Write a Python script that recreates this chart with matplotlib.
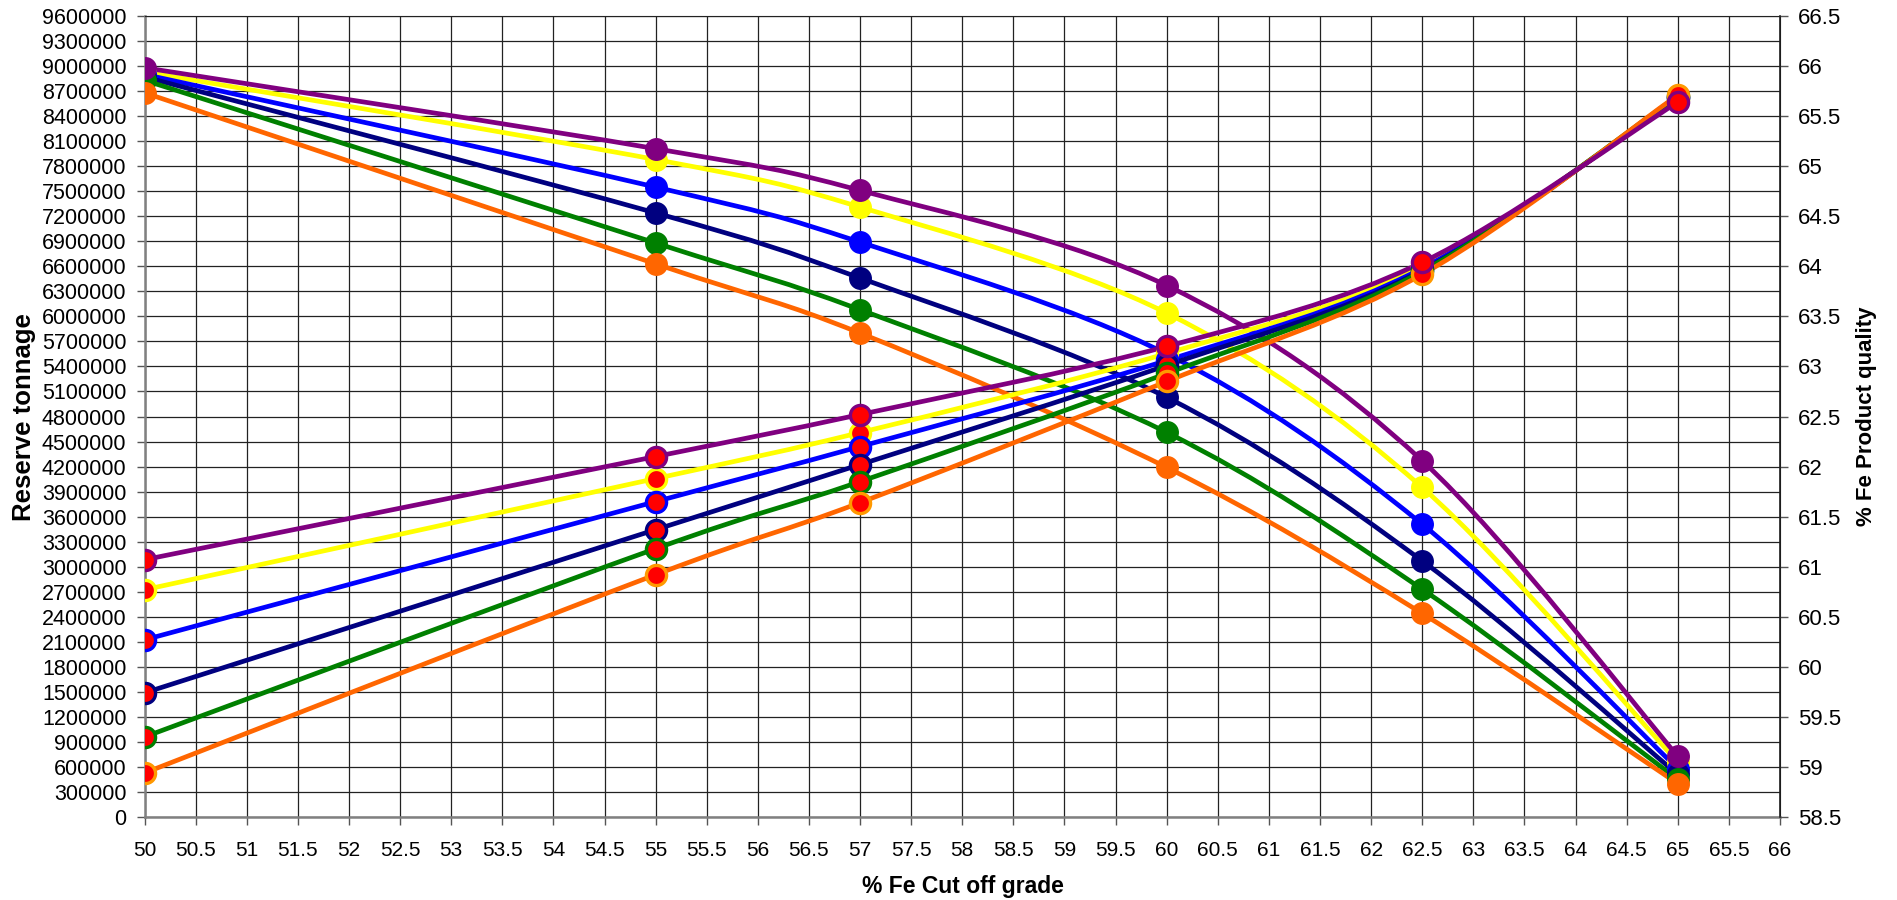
import matplotlib
matplotlib.use("Agg")
import matplotlib.pyplot as plt
from matplotlib.path import Path
from matplotlib.patches import PathPatch
from matplotlib.ticker import FixedLocator
import numpy as np

plt.rcParams['font.family'] = ['Liberation Sans', 'DejaVu Sans']

# % Fe cut off grade
cutoff = [50, 55, 57, 60, 62.5, 65]

# reserve tonnage at each cut off grade
tonnage_purple = [8980000, 8010000, 7510000, 6370000, 4270000, 730000]
tonnage_yellow = [8930000, 7880000, 7310000, 6040000, 3950000, 660000]
tonnage_blue = [8900000, 7550000, 6890000, 5550000, 3510000, 580000]
tonnage_navy = [8870000, 7240000, 6460000, 5030000, 3070000, 510000]
tonnage_green = [8830000, 6880000, 6080000, 4610000, 2730000, 450000]
tonnage_orange = [8680000, 6630000, 5800000, 4190000, 2440000, 400000]

# % Fe product quality at each cut off grade
quality_purple = [61.07, 62.10, 62.52, 63.20, 64.04, 65.64]
quality_yellow = [60.77, 61.88, 62.34, 63.13, 64.00, 65.67]
quality_blue = [60.27, 61.65, 62.20, 63.06, 63.98, 65.68]
quality_navy = [59.74, 61.37, 62.02, 63.01, 63.96, 65.69]
quality_green = [59.30, 61.18, 61.85, 62.93, 63.95, 65.70]
quality_orange = [58.94, 60.92, 61.64, 62.85, 63.92, 65.71]

x_ticks = np.arange(50, 66.01, 0.5)
left_ticks = np.arange(0, 9600001, 300000)
right_ticks = np.arange(58.5, 66.51, 0.5)

tonnage = {'purple': tonnage_purple, 'yellow': tonnage_yellow, 'blue': tonnage_blue,
           'navy': tonnage_navy, 'green': tonnage_green, 'orange': tonnage_orange}
quality = {'purple': quality_purple, 'yellow': quality_yellow, 'blue': quality_blue,
           'navy': quality_navy, 'green': quality_green, 'orange': quality_orange}

line_colors = {'purple': '#800080', 'yellow': '#FFFF00', 'blue': '#0000FF',
               'navy': '#000080', 'green': '#008000', 'orange': '#FF6600'}
ring_colors = dict(line_colors, orange='#FF9900')


def smooth_path(xs, ys):
    # Catmull-Rom style bezier through the points (smoothed line look)
    pts = np.column_stack([xs, ys]).astype(float)
    verts = [pts[0]]
    codes = [Path.MOVETO]
    n = len(pts)
    for i in range(n - 1):
        p0 = pts[i - 1] if i > 0 else pts[i]
        p1 = pts[i]
        p2 = pts[i + 1]
        p3 = pts[i + 2] if i + 2 < n else pts[i + 1]
        c1 = p1 + (p2 - p0) / 6.0
        c2 = p2 - (p3 - p1) / 6.0
        verts += [c1, c2, p2]
        codes += [Path.CURVE4] * 3
    return Path(verts, codes)


fig = plt.figure(figsize=(18.97, 9.0), dpi=100)
ax = fig.add_axes([0.0762, 0.0922, 0.8621, 0.89])
ax2 = ax.twinx()

draw_order = ['yellow', 'blue', 'navy', 'green', 'orange', 'purple']

for name in draw_order:
    col = line_colors[name]
    ax.add_patch(PathPatch(smooth_path(cutoff, tonnage[name]), facecolor='none',
                           edgecolor=col, linewidth=3.4, zorder=3))
    ax.plot(cutoff, tonnage[name], linestyle='none', marker='o', markersize=15.5,
            markerfacecolor=col, markeredgecolor=col, zorder=4)

for name in draw_order:
    col = line_colors[name]
    ax2.add_patch(PathPatch(smooth_path(cutoff, quality[name]), facecolor='none',
                            edgecolor=col, linewidth=3.4, zorder=3))
    ax2.plot(cutoff, quality[name], linestyle='none', marker='o', markersize=14.5,
             markerfacecolor='#FF0000', markeredgecolor=ring_colors[name],
             markeredgewidth=2.4, zorder=4)

ax.set_xlim(50, 66)
ax.set_ylim(0, 9600000)
ax2.set_ylim(58.5, 66.5)

ax.xaxis.set_major_locator(FixedLocator(x_ticks))
ax.set_xticklabels(['%g' % v for v in x_ticks])
ax.yaxis.set_major_locator(FixedLocator(left_ticks))
ax.set_yticklabels(['%d' % v for v in left_ticks])
ax2.yaxis.set_major_locator(FixedLocator(right_ticks))
ax2.set_yticklabels(['%g' % v for v in right_ticks])

ax.grid(True, color='#222222', linewidth=0.9, zorder=0)
ax.set_axisbelow(True)

ax.tick_params(axis='y', labelsize=15.5, length=6, width=1, color='#555555', pad=7)
ax.tick_params(axis='x', labelsize=15, length=6, width=1, color='#555555', pad=11)
ax2.tick_params(axis='y', labelsize=16, length=6, width=1, color='#555555', pad=7)

for sp in ['left', 'bottom']:
    ax.spines[sp].set_color('#808080')
    ax.spines[sp].set_linewidth(1.8)
ax.spines['top'].set_color('#222222')
ax2.spines['top'].set_visible(False)
ax2.spines['left'].set_visible(False)
ax2.spines['bottom'].set_visible(False)
ax2.spines['right'].set_color('#222222')
ax2.spines['right'].set_linewidth(1.2)

# axis titles
fig.text(0.5075, 0.0147, '% Fe Cut off grade', fontsize=16.5, fontweight='bold',
         ha='center', va='center')
fig.text(0.0127, 0.537, 'Reserve tonnage', fontsize=18.5, fontweight='bold',
         rotation=90, ha='center', va='center')
fig.text(0.984, 0.537, '% Fe Product quality', fontsize=16, fontweight='bold',
         rotation=90, ha='center', va='center')

fig.savefig('out.png', dpi=100, facecolor='white')
